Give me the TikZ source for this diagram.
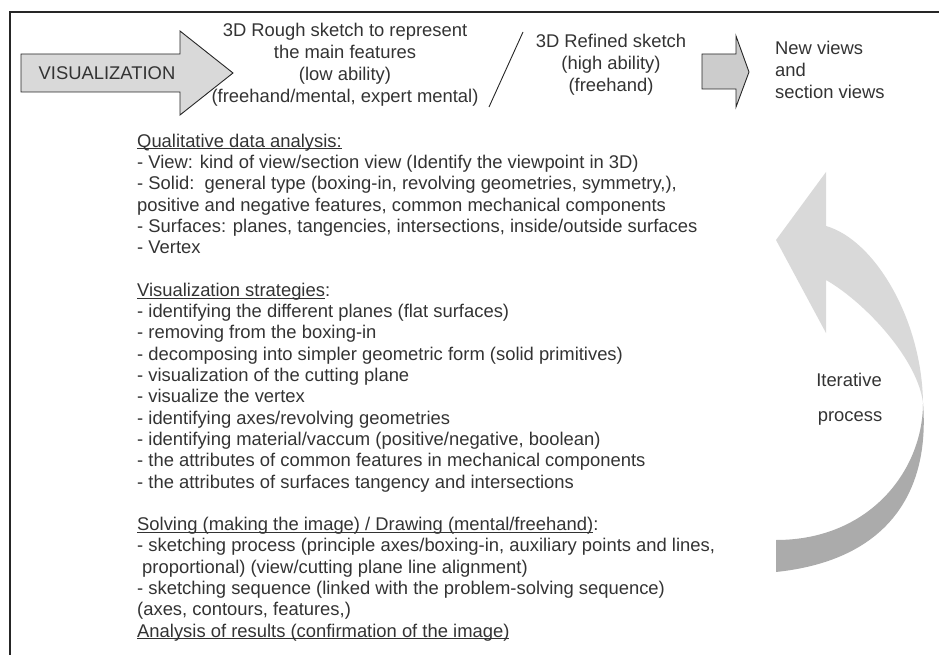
\documentclass[tikz,border=0pt]{standalone}
\usepackage{fontspec}
\setmainfont{Liberation Sans}
\usepackage{tikz}

\definecolor{ink}{gray}{0.2}
\definecolor{paleshade}{gray}{0.85}
\definecolor{darkshade}{gray}{0.67}
\definecolor{boxshade}{gray}{0.8}
\newcommand{\ulhead}[1]{\underline{\smash{#1}}}

\begin{document}
\begin{tikzpicture}[x=1pt,y=-1pt,
  hdr/.style={font=\fontsize{18.4}{22}\selectfont,text=ink,inner sep=0pt},
  txt/.style={font=\fontsize{18.4}{21.3}\selectfont,text=ink,inner sep=0pt,align=left},
  outline/.style={draw=black!85,line width=0.9pt}]
  \useasboundingbox (0,0) rectangle (939,655);
  \draw[line width=1.6pt,black!85] (939,12) -- (10,12) -- (10,655);
  % top row
  \draw[outline,fill=paleshade] (21,54) -- (180,54) -- (180,31) -- (233,73)
    -- (180,115) -- (180,92) -- (21,92) -- cycle;
  \node[hdr] (vis) at (107,73) {VISUALIZATION};
  \node[hdr,align=center] (rough) at (345,65)
    {3D Rough sketch to represent\\the main features\\(low ability)\\(freehand/mental, expert mental)};
  \draw[line width=0.9pt,black!85] (523,32) -- (489,107);
  \node[hdr,align=center] (refined) at (611,65)
    {3D Refined sketch\\(high ability)\\(freehand)};
  \draw[outline,fill=boxshade] (702,54) -- (736,54) -- (736,36) -- (749,72)
    -- (736,107) -- (736,89) -- (702,89) -- cycle;
  \node[hdr,align=left,anchor=west] (views) at (775,70)
    {New views\\and\\section views};
  % analysis text
  \node[txt,anchor=north west] (steps) at (137,147)
    {\ulhead{Qualitative data analysis:}\\
     - View: kind of view/section view (Identify the viewpoint in 3D)\\
     - Solid:\ \ general type (boxing-in, revolving geometries, symmetry,),\\
     positive and negative features, common mechanical components\\
     - Surfaces: planes, tangencies, intersections, inside/outside surfaces\\
     - Vertex\\[21.3pt]
     \ulhead{Visualization strategies}:\\
     - identifying the different planes (flat surfaces)\\
     - removing from the boxing-in\\
     - decomposing into simpler geometric form (solid primitives)\\
     - visualization of the cutting plane\\
     - visualize the vertex\\
     - identifying axes/revolving geometries\\
     - identifying material/vaccum (positive/negative, boolean)\\
     - the attributes of common features in mechanical components\\
     - the attributes of surfaces tangency and intersections\\[21.3pt]
     \ulhead{Solving (making the image) / Drawing (mental/freehand)}:\\
     - sketching process (principle axes/boxing-in, auxiliary points and lines,\\
     \hspace*{5pt}proportional) (view/cutting plane line alignment)\\
     - sketching sequence (linked with the problem-solving sequence)\\
     (axes, contours, features,)\\
     \ulhead{Analysis of results (confirmation of the image)}};
  % iterative loop
  \fill[paleshade] (826,226) .. controls (875,240) and (922,320) .. (923,403)
    .. controls (918,360) and (866,303) .. (826,280) -- (826,333) -- (776,240)
    -- (826,172) -- cycle;
  \fill[darkshade] (923,403) .. controls (930,490) and (890,560) .. (776,572)
    -- (776,540) .. controls (870,540) and (923,470) .. (923,403) -- cycle;
  \node[txt] (iter) at (849,380) {Iterative};
  \node[txt] (proc) at (850,418) {process};
\end{tikzpicture}
\end{document}
